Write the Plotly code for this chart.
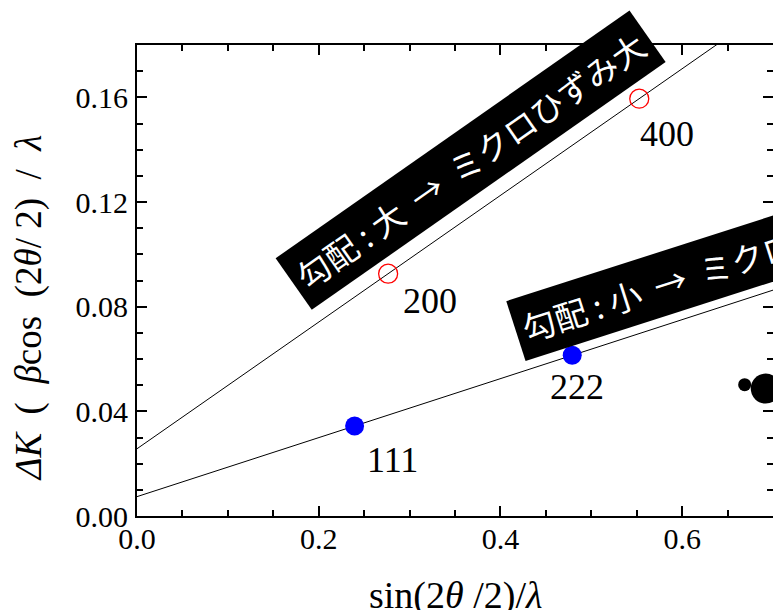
import numpy as np
import plotly.graph_objects as go

# ---- data ----
fcc_odd_x = [0.2395, 0.479]      # 111, 222 (blue filled)
fcc_odd_y = [0.0344, 0.0614]
fcc_odd_labels = ["111", "222"]

fcc_even_x = [0.2764, 0.5528]    # 200, 400 (red open)
fcc_even_y = [0.0926, 0.1595]
fcc_even_labels = ["200", "400"]

extra_x = [0.6688, 0.692]        # black dots at the right edge
extra_y = [0.0502, 0.0487]

NB = "\u00a0"
box_texts = ["勾配" + NB + ":" + NB + "大" + NB * 2 + "→" + NB * 2 + "ミクロひずみ大",
             "勾配" + NB + ":" + NB + "小" + NB * 2 + "→" + NB * 2 + "ミクロひずみ小"]

x_range = [0.0, 0.7]
y_range = [0.0, 0.18]

# ---- styles ----
SERIF = "Liberation Serif, Times New Roman, serif"
CJK = "Noto Sans CJK JP, sans-serif"
extra_sizes = [13, 30]

fig = go.Figure()

# fit lines (least squares through each series)
for xs, ys in [(fcc_even_x, fcc_even_y), (fcc_odd_x, fcc_odd_y)]:
    k, b = np.polyfit(xs, ys, 1)
    xl = np.array(x_range)
    fig.add_trace(go.Scatter(x=xl, y=k * xl + b, mode="lines",
                             line=dict(color="black", width=1), showlegend=False,
                             hoverinfo="skip"))

fig.add_trace(go.Scatter(x=fcc_even_x, y=fcc_even_y, mode="markers",
                         marker=dict(symbol="circle-open", size=19, color="red",
                                     line=dict(width=1.3, color="red")),
                         showlegend=False))
fig.add_trace(go.Scatter(x=fcc_odd_x, y=fcc_odd_y, mode="markers",
                         marker=dict(symbol="circle", size=19, color="blue",
                                     line=dict(width=0)),
                         showlegend=False))
fig.add_trace(go.Scatter(x=extra_x, y=extra_y, mode="markers",
                         marker=dict(symbol="circle", size=extra_sizes, color="#000000",
                                     opacity=1, line=dict(width=0)),
                         opacity=1, showlegend=False))

# point labels
label_shifts = {"200": (42, -27), "400": (28, -35), "111": (38, -34), "222": (5, -32)}
for xs, ys, labs in [(fcc_even_x, fcc_even_y, fcc_even_labels),
                     (fcc_odd_x, fcc_odd_y, fcc_odd_labels)]:
    for x, y, t in zip(xs, ys, labs):
        dx, dy = label_shifts[t]
        fig.add_annotation(x=x, y=y, text=t, showarrow=False, xshift=dx, yshift=dy,
                           font=dict(family=SERIF, size=36, color="black"),
                           xanchor="center", yanchor="middle")

# black slanted label boxes
box_pos = [(0.3674, 0.1361, -35), (0.6437, 0.0960, -17.8)]
for t, (bx, by, ang) in zip(box_texts, box_pos):
    fig.add_annotation(x=bx, y=by, text=t, showarrow=False, textangle=ang,
                       font=dict(family=CJK, size=33, color="white"),
                       bgcolor="black", borderpad=7, xanchor="center", yanchor="middle")

# axis titles
fig.add_annotation(xref="paper", yref="paper", x=-0.1693, y=0.4416,
                   text="<i>ΔK</i>" + NB * 2 + "(" + NB * 2 + "<i>β</i>cos" + NB * 2
                        + "(2<i>θ</i>/" + NB + "2)" + NB * 2 + "/" + NB * 2 + "<i>λ</i>",
                   textangle=-90, showarrow=False,
                   font=dict(family=SERIF, size=37, color="black"),
                   xanchor="center", yanchor="middle")
fig.add_annotation(xref="paper", yref="paper", x=0.5, y=-0.168,
                   text="sin(2<i>θ</i> /2)/<i>λ</i>", showarrow=False,
                   font=dict(family=SERIF, size=38, color="black"),
                   xanchor="center", yanchor="middle")

axis_common = dict(showline=True, linewidth=2, linecolor="black", mirror="allticks",
                   ticks="inside", ticklen=10, tickwidth=2, tickcolor="black",
                   showgrid=False, zeroline=False,
                   tickfont=dict(family=SERIF, size=30, color="black"))

fig.update_xaxes(range=x_range, tick0=0, dtick=0.2, tickformat=".1f",
                 minor=dict(ticks="inside", ticklen=6, tickwidth=2, dtick=0.05,
                            tickcolor="black", showgrid=False),
                 ticklabelstandoff=-5,
                 **axis_common)
fig.update_yaxes(range=y_range, tick0=0, dtick=0.04, tickformat=".2f",
                 minor=dict(ticks="inside", ticklen=6, tickwidth=2, dtick=0.01,
                            tickcolor="black", showgrid=False),
                 ticklabelstandoff=1,
                 **axis_common)

fig.update_layout(width=776, height=610,
                  margin=dict(l=137, r=1, t=45, b=94),
                  plot_bgcolor="white", paper_bgcolor="white",
                  showlegend=False)

fig.write_html("out.html",
               post_script="document.documentElement.style.overflow='hidden';"
                           "document.body.style.overflow='hidden';")
